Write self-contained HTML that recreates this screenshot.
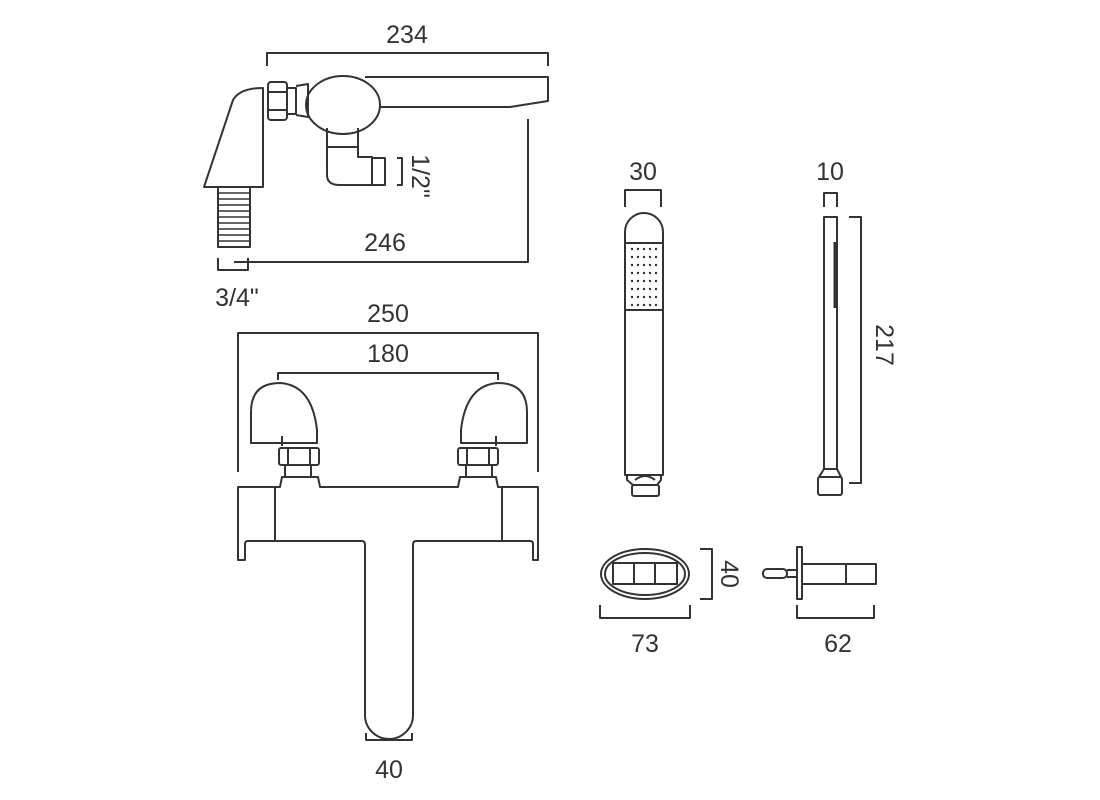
<!DOCTYPE html>
<html><head><meta charset="utf-8"><style>
html,body{margin:0;padding:0;background:#fff;}
svg{display:block}
text{font-family:"Liberation Sans",sans-serif;font-size:25px;fill:#333;}
</style></head><body>
<svg width="1100" height="800" viewBox="0 0 1100 800" xmlns="http://www.w3.org/2000/svg">
<g fill="none" stroke="#333" stroke-width="2" stroke-linejoin="round">
<polyline points="267,66 267,53 548,53 548,66"/>
<path d="M365,77 L548,77 L548,101 L510,107 L378,107"/>
<ellipse cx="343" cy="105" rx="37" ry="29" fill="#fff"/>
<rect x="268" y="82" width="19" height="38" rx="3"/>
<line x1="268" y1="92" x2="287" y2="92"/><line x1="268" y1="110" x2="287" y2="110"/>
<path d="M287,88 L296,88 L296,114 L287,114"/>
<path d="M296,86 L308,84 L308,117 L296,115"/>
<path d="M204,187 L233,100 Q240,88 263,88 L263,187 Z"/>
<rect x="218" y="187" width="32" height="60"/>
<g stroke-width="1.5">
<line x1="218" y1="193" x2="250" y2="193"/><line x1="218" y1="199" x2="250" y2="199"/><line x1="218" y1="205" x2="250" y2="205"/><line x1="218" y1="211" x2="250" y2="211"/><line x1="218" y1="217" x2="250" y2="217"/><line x1="218" y1="223" x2="250" y2="223"/><line x1="218" y1="229" x2="250" y2="229"/><line x1="218" y1="235" x2="250" y2="235"/><line x1="218" y1="241" x2="250" y2="241"/>
</g>
<path d="M327,128 L327,175 Q327,185 340,185 L372,185 L372,157 L358,157 L358,128"/>
<line x1="327" y1="147" x2="358" y2="147"/>
<rect x="372" y="158" width="13" height="27"/>
<polyline points="397,158 402,158 402,185 397,185"/>
<polyline points="528,119 528,262 234,262"/>
<polyline points="218,258 218,270 248,270 248,258"/>
<polyline points="238,472 238,333 538,333 538,472"/>
<polyline points="278,380 278,373 498,373 498,380"/>
<path d="M251,443 L251,412 Q251,383 280,383 Q312,385 317,430 L317,443 Z"/>
<path d="M527,443 L527,412 Q527,383 498,383 Q466,385 461,430 L461,443 Z"/>
<line x1="282" y1="436" x2="282" y2="446"/><line x1="496" y1="436" x2="496" y2="446"/>
<rect x="279" y="448" width="40" height="17" rx="2"/><line x1="288" y1="448" x2="288" y2="465"/><line x1="310" y1="448" x2="310" y2="465"/>
<rect x="458" y="448" width="40" height="17" rx="2"/><line x1="467" y1="448" x2="467" y2="465"/><line x1="489" y1="448" x2="489" y2="465"/>
<line x1="285" y1="465" x2="285" y2="476"/><line x1="311" y1="465" x2="311" y2="476"/>
<line x1="466" y1="465" x2="466" y2="476"/><line x1="492" y1="465" x2="492" y2="476"/>
<path d="M238,560 L238,487 L280,487 L282,477 L318,477 L320,487 L458,487 L460,477 L496,477 L498,487 L538,487 L538,560 L533,560 L533,544 Q533,541 530,541 L416,541 Q413,541 413,545 L413,715 A24,24 0 0 1 365,715 L365,545 Q365,541 362,541 L248,541 Q245,541 245,544 L245,560 Z"/>
<line x1="275" y1="487" x2="275" y2="541"/><line x1="502" y1="487" x2="502" y2="541"/>
<polyline points="366,733 366,740 412,740 412,733"/>
<polyline points="625,207 625,190 661,190 661,207"/>
<path d="M625,475 L625,232 A19,19 0 0 1 663,232 L663,475 Z"/>
<line x1="625" y1="243" x2="663" y2="243"/><line x1="625" y1="310" x2="663" y2="310"/>
<path d="M627,475 L627,480 L633,485 L657,485 L661,480 L661,475"/>
<path d="M635,480 Q645,472 655,480"/>
<rect x="632" y="485" width="27" height="11" rx="2"/>
<polyline points="824,207 824,193 837,193 837,207"/>
<rect x="824" y="217" width="13" height="252"/>
<line x1="835" y1="242" x2="835" y2="308" stroke-width="3"/>
<path d="M824,469 L819,477 L841,477 L837,469"/>
<rect x="818" y="477" width="24" height="18" rx="2"/>
<polyline points="849,217 861,217 861,483 849,483"/>
<ellipse cx="645" cy="574" rx="44" ry="25"/>
<ellipse cx="645" cy="574" rx="40" ry="21"/>
<rect x="613" y="563" width="64" height="21"/><line x1="634" y1="563" x2="634" y2="584"/><line x1="655" y1="563" x2="655" y2="584"/>
<polyline points="700,549 712,549 712,599 700,599"/>
<polyline points="600,605 600,618 690,618 690,605"/>
<rect x="797" y="547" width="5" height="52"/>
<rect x="802" y="564" width="74" height="20"/><line x1="846" y1="564" x2="846" y2="584"/>
<path d="M787,570 L797,570 M787,577 L797,577"/>
<rect x="763" y="569" width="24" height="9" rx="4"/>
<polyline points="797,605 797,618 874,618 874,605"/>
</g>
<g fill="#333">
<g id="dots">
<circle cx="632" cy="249" r="1.2"/><circle cx="638" cy="249" r="1.2"/><circle cx="644" cy="249" r="1.2"/><circle cx="650" cy="249" r="1.2"/><circle cx="656" cy="249" r="1.2"/>
</g>
<use href="#dots" y="8"/><use href="#dots" y="16"/><use href="#dots" y="24"/><use href="#dots" y="32"/><use href="#dots" y="40"/><use href="#dots" y="48"/><use href="#dots" y="56"/>
</g>
<g text-anchor="middle">
<text x="407" y="43">234</text>
<text x="385" y="251">246</text>
<text x="237" y="306">3/4"</text>
<text x="388" y="322">250</text>
<text x="388" y="362">180</text>
<text x="389" y="778">40</text>
<text x="643" y="180">30</text>
<text x="830" y="180">10</text>
<text x="645" y="652">73</text>
<text x="838" y="652">62</text>
<text transform="translate(412,176) rotate(90)">1/2"</text>
<text transform="translate(876,345) rotate(90)">217</text>
<text transform="translate(721,574) rotate(90)">40</text>
</g>
</svg>
</body></html>
